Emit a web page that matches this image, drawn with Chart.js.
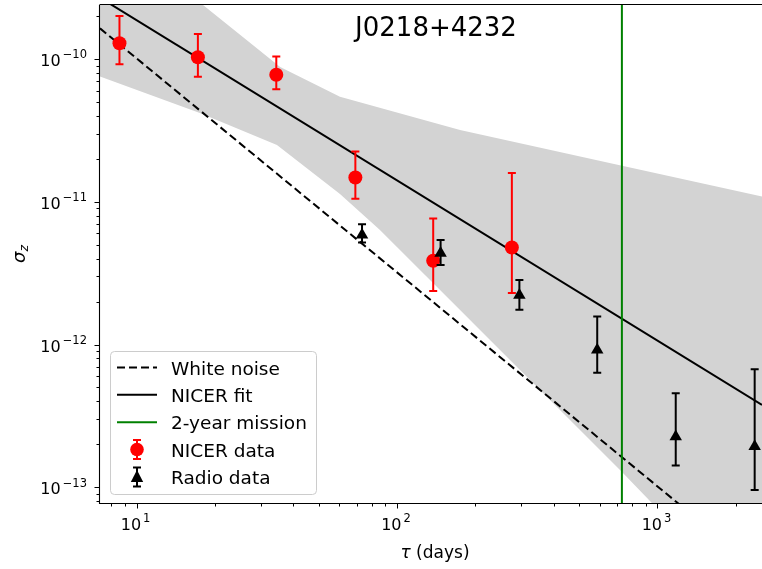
<!DOCTYPE html>
<html>
<head>
<meta charset="utf-8">
<title>J0218+4232</title>
<script src="https://cdn.jsdelivr.net/npm/chart.js@4.4.0/dist/chart.umd.min.js"></script>
<style>
    html, body { margin: 0; padding: 0; background: #fff; }
    #wrap { width: 762px; height: 569px; position: relative; }
</style>
</head>
<body>
<div id="wrap"><canvas id="sigmaChart" width="762" height="569"></canvas></div>
<script>
// ====================================
// DATA
// ====================================

// NICER timing points: tau (days), sigma_z and the error bar ends
const nicerTau   = [8.6, 17.2, 34.4, 69.2, 137.7, 276];
const nicerSigma = [1.29e-10, 1.03e-10, 7.76e-11, 1.48e-11, 3.86e-12, 4.78e-12];
const nicerLow   = [9.2e-11, 7.5e-11, 6.14e-11, 1.05e-11, 2.37e-12, 2.30e-12];
const nicerHigh  = [2.0e-10, 1.50e-10, 1.04e-10, 2.25e-11, 7.65e-12, 1.59e-11];

// Radio timing points
const radioTau   = [73.4, 147, 295, 587, 1175, 2361];
const radioSigma = [5.85e-12, 4.36e-12, 2.22e-12, 9.16e-13, 2.26e-13, 1.93e-13];
const radioLow   = [5.18e-12, 3.61e-12, 1.75e-12, 6.35e-13, 1.42e-13, 9.57e-14];
const radioHigh  = [6.95e-12, 5.39e-12, 2.83e-12, 1.57e-12, 4.55e-13, 6.70e-13];

// straight lines (end points)
const fitTau     = [7.24, 2519];
const fitSigma   = [2.69e-10, 3.78e-13];
const whiteTau   = [7.24, 2519];
const whiteSigma = [1.64e-10, 2.54e-14];
const missionTau = 730;

// grey confidence band
const bandUpperTau   = [7.24, 18.0, 35.6, 60.4, 174.6, 731, 2519];
const bandUpperSigma = [9.14e-10, 2.39e-10, 8.79e-11, 5.44e-11, 3.18e-11, 1.79e-11, 1.09e-11];
const bandLowerTau   = [7.24, 17.5, 34.6, 60.4, 86.0, 159.8, 730.6, 2519];
const bandLowerSigma = [7.54e-11, 4.19e-11, 2.50e-11, 1.135e-11, 6.35e-12, 2.05e-12, 1.28e-13, 1.23e-14];

// axes
const xMin = 7.24, xMax = 2519;
const yMin = 7.76e-14, yMax = 2.39e-10;
const xTickValues = [10, 100, 1000];
const xTickExp    = ['1', '2', '3'];
const yTickValues = [1e-13, 1e-12, 1e-11, 1e-10];
const yTickExp    = ['\u221213', '\u221212', '\u221211', '\u221210'];

const titleText = 'J0218+4232';
const legendLabels = ['White noise', 'NICER fit', '2-year mission', 'NICER data', 'Radio data'];

const FONT = '"DejaVu Sans", "Liberation Sans", sans-serif';

// helper: zip two arrays into {x, y}
function pts(xs, ys) {
    return xs.map((x, i) => ({ x: x, y: ys[i] }));
}

// ====================================
// ERROR BARS (drawn just before their marker dataset)
// ====================================
const errorBarPlugin = {
    id: 'errorBars',
    beforeDatasetDraw(chart, args) {
        const ds = chart.data.datasets[args.index];
        if (!ds.errLow) return;
        const xs = chart.scales.x, ys = chart.scales.y;
        const ctx = chart.ctx;
        ctx.save();
        ctx.strokeStyle = ds.errColor;
        ctx.lineWidth = 2;
        ds.data.forEach((p, i) => {
            const px = xs.getPixelForValue(p.x);
            const lo = ys.getPixelForValue(ds.errLow[i]);
            const hi = ys.getPixelForValue(ds.errHigh[i]);
            ctx.beginPath();
            ctx.moveTo(px, lo); ctx.lineTo(px, hi);
            ctx.moveTo(px - 4, lo); ctx.lineTo(px + 4, lo);
            ctx.moveTo(px - 4, hi); ctx.lineTo(px + 4, hi);
            ctx.stroke();
        });
        ctx.restore();
    }
};

// ====================================
// FRAME: spines, ticks, labels, title, legend
// ====================================
function drawPow(ctx, exp, x, baseY, expY, align) {
    ctx.font = '16px ' + FONT;
    const wb = ctx.measureText('10').width;
    ctx.font = '11.5px ' + FONT;
    const we = ctx.measureText(exp).width;
    const total = wb + 2 + we;
    const x0 = align === 'right' ? x - total : x - total / 2;
    ctx.textAlign = 'left';
    ctx.textBaseline = 'alphabetic';
    ctx.font = '16px ' + FONT;
    ctx.fillText('10', x0, baseY);
    ctx.font = '11.5px ' + FONT;
    ctx.fillText(exp, x0 + wb + 2, expY);
}

function minorTicks(min, max) {
    const out = [];
    for (let e = Math.floor(Math.log10(min)); e <= Math.ceil(Math.log10(max)); e++) {
        for (let m = 2; m <= 9; m++) {
            const v = m * Math.pow(10, e);
            if (v >= min && v <= max) out.push(v);
        }
    }
    return out;
}

const framePlugin = {
    id: 'frame',
    afterDraw(chart) {
        const ctx = chart.ctx;
        const a = chart.chartArea;
        const xs = chart.scales.x, ys = chart.scales.y;
        ctx.save();

        // spines
        ctx.strokeStyle = '#000';
        ctx.lineWidth = 1.1;
        ctx.beginPath();
        ctx.moveTo(a.left - 0.5, a.top);
        ctx.lineTo(a.left - 0.5, a.bottom + 0.5);
        ctx.lineTo(a.right + 2, a.bottom + 0.5);
        ctx.moveTo(a.left - 0.5, a.top - 0.5);
        ctx.lineTo(a.right + 2, a.top - 0.5);
        ctx.stroke();

        // tick marks
        ctx.lineWidth = 1;
        ctx.beginPath();
        xTickValues.forEach(v => {
            const px = Math.round(xs.getPixelForValue(v)) + 0.5;
            ctx.moveTo(px, a.bottom); ctx.lineTo(px, a.bottom + 5.5);
        });
        minorTicks(xMin, xMax).forEach(v => {
            const px = Math.round(xs.getPixelForValue(v)) + 0.5;
            ctx.moveTo(px, a.bottom); ctx.lineTo(px, a.bottom + 3.5);
        });
        yTickValues.forEach(v => {
            const py = Math.round(ys.getPixelForValue(v)) + 0.5;
            ctx.moveTo(a.left, py); ctx.lineTo(a.left - 5.5, py);
        });
        minorTicks(yMin, yMax).forEach(v => {
            const py = Math.round(ys.getPixelForValue(v)) + 0.5;
            ctx.moveTo(a.left, py); ctx.lineTo(a.left - 3.5, py);
        });
        ctx.stroke();

        // tick labels
        ctx.fillStyle = '#000';
        xTickValues.forEach((v, i) => {
            const px = xs.getPixelForValue(v);
            drawPow(ctx, xTickExp[i], px - 1, a.bottom + 27, a.bottom + 18.7, 'center');
        });
        yTickValues.forEach((v, i) => {
            const py = ys.getPixelForValue(v);
            drawPow(ctx, yTickExp[i], a.left - 13, py + 7, py - 0.7, 'right');
        });

        // x axis title: italic tau + " (days)"
        ctx.textBaseline = 'alphabetic';
        ctx.textAlign = 'left';
        ctx.font = 'italic 17px ' + FONT;
        const wt = ctx.measureText('\u03c4').width;
        ctx.font = '17px ' + FONT;
        const wd = ctx.measureText(' (days)').width;
        const tx0 = 435 - (wt + wd) / 2;
        ctx.font = 'italic 17px ' + FONT;
        ctx.fillText('\u03c4', tx0, 558);
        ctx.font = '17px ' + FONT;
        ctx.fillText(' (days)', tx0 + wt, 558);

        // y axis title: italic sigma with subscript z
        ctx.save();
        ctx.translate(25, (a.top + a.bottom) / 2);
        ctx.rotate(-Math.PI / 2);
        ctx.font = 'italic 18px ' + FONT;
        const ws = ctx.measureText('\u03c3').width;
        ctx.font = 'italic 12.5px ' + FONT;
        const wz = ctx.measureText('z').width;
        const x0 = -(ws + wz) / 2;
        ctx.font = 'italic 18px ' + FONT;
        ctx.fillText('\u03c3', x0, 0);
        ctx.font = 'italic 12.5px ' + FONT;
        ctx.fillText('z', x0 + ws, 3);
        ctx.restore();

        // title inside the axes
        ctx.font = '26px ' + FONT;
        ctx.textAlign = 'center';
        ctx.fillText(titleText, 436, 36);

        // legend
        const bx = a.left + 10, by = a.bottom - 152, bw = 206, bh = 143;
        ctx.beginPath();
        ctx.roundRect(bx + 0.5, by + 0.5, bw, bh, 4);
        ctx.fillStyle = 'rgba(255,255,255,0.8)';
        ctx.fill();
        ctx.strokeStyle = '#cccccc';
        ctx.lineWidth = 1;
        ctx.stroke();

        const hx0 = bx + 7, hx1 = bx + 47, hc = bx + 27;
        legendLabels.forEach((lab, i) => {
            const ry = by + 16.5 + i * 27.35;
            ctx.lineWidth = 2;
            if (i === 0) {
                ctx.strokeStyle = '#000';
                ctx.setLineDash([8, 4]);
                ctx.beginPath(); ctx.moveTo(hx0, ry); ctx.lineTo(hx1, ry); ctx.stroke();
                ctx.setLineDash([]);
            } else if (i === 1 || i === 2) {
                ctx.strokeStyle = i === 1 ? '#000' : '#008000';
                ctx.beginPath(); ctx.moveTo(hx0, ry); ctx.lineTo(hx1, ry); ctx.stroke();
            } else {
                const col = i === 3 ? '#ff0000' : '#000';
                ctx.strokeStyle = col;
                ctx.fillStyle = col;
                ctx.beginPath();
                ctx.moveTo(hc, ry - 9.5); ctx.lineTo(hc, ry + 9.5);
                ctx.moveTo(hc - 4, ry - 9.5); ctx.lineTo(hc + 4, ry - 9.5);
                ctx.moveTo(hc - 4, ry + 9.5); ctx.lineTo(hc + 4, ry + 9.5);
                ctx.stroke();
                ctx.beginPath();
                if (i === 3) {
                    ctx.arc(hc, ry, 6.8, 0, Math.PI * 2);
                } else {
                    ctx.moveTo(hc, ry - 7); ctx.lineTo(hc + 6.2, ry + 5); ctx.lineTo(hc - 6.2, ry + 5);
                    ctx.closePath();
                }
                ctx.fill();
            }
            ctx.fillStyle = '#000';
            ctx.font = '18.5px ' + FONT;
            ctx.textAlign = 'left';
            ctx.fillText(lab, bx + 61, ry + 7);
        });

        ctx.restore();
    }
};

// ====================================
// CHART
// ====================================
document.addEventListener('DOMContentLoaded', function () {
    const ctx = document.getElementById('sigmaChart');
    new Chart(ctx, {
        type: 'scatter',
        data: {
            datasets: [
                {   // band upper edge, filled down to the next dataset
                    data: pts(bandUpperTau, bandUpperSigma),
                    showLine: true, pointRadius: 0, borderWidth: 0,
                    borderColor: 'rgba(0,0,0,0)', backgroundColor: '#d3d3d3',
                    fill: '+1', order: 10, clip: 0
                },
                {   // band lower edge
                    data: pts(bandLowerTau, bandLowerSigma),
                    showLine: true, pointRadius: 0, borderWidth: 0,
                    borderColor: 'rgba(0,0,0,0)', fill: false, order: 11, clip: 0
                },
                {
                    label: 'White noise',
                    data: pts(whiteTau, whiteSigma),
                    showLine: true, pointRadius: 0, borderColor: '#000', borderWidth: 2,
                    borderDash: [8, 4], fill: false, order: 5, clip: 0
                },
                {
                    label: 'NICER fit',
                    data: pts(fitTau, fitSigma),
                    showLine: true, pointRadius: 0, borderColor: '#000', borderWidth: 2,
                    fill: false, order: 4, clip: 0
                },
                {
                    label: '2-year mission',
                    data: [{ x: missionTau, y: 1e-14 }, { x: missionTau, y: 1e-9 }],
                    showLine: true, pointRadius: 0, borderColor: '#008000', borderWidth: 2,
                    fill: false, order: 3, clip: 0
                },
                {
                    label: 'NICER data',
                    data: pts(nicerTau, nicerSigma),
                    errLow: nicerLow, errHigh: nicerHigh, errColor: '#ff0000',
                    pointStyle: 'circle', pointRadius: 7, borderWidth: 0,
                    backgroundColor: '#ff0000', borderColor: '#ff0000', order: 2
                },
                {
                    label: 'Radio data',
                    data: pts(radioTau, radioSigma),
                    errLow: radioLow, errHigh: radioHigh, errColor: '#000',
                    pointStyle: 'triangle', pointRadius: 7.2, borderWidth: 0,
                    backgroundColor: '#000', borderColor: '#000', order: 1
                }
            ]
        },
        options: {
            responsive: false,
            animation: false,
            layout: { autoPadding: false, padding: { left: 100, top: 5, right: 0, bottom: 66 } },
            scales: {
                x: { type: 'logarithmic', min: xMin, max: xMax, display: false },
                y: { type: 'logarithmic', min: yMin, max: yMax, display: false }
            },
            plugins: {
                legend: { display: false },
                tooltip: { enabled: false }
            }
        },
        plugins: [errorBarPlugin, framePlugin]
    });
});
</script>
</body>
</html>
